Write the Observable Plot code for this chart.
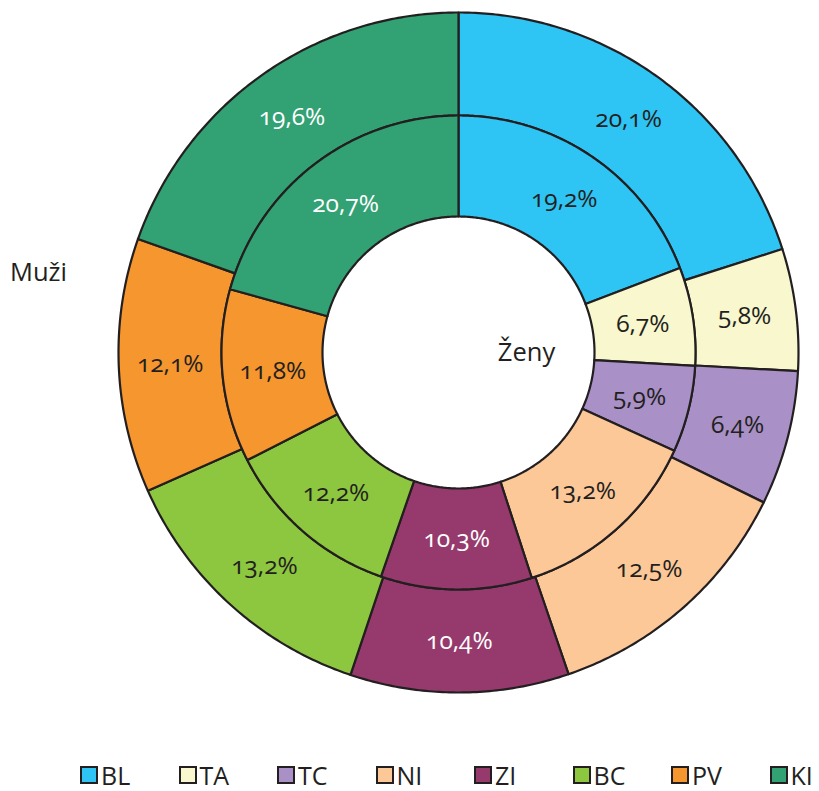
<!DOCTYPE html>
<html>
<head>
<meta charset="utf-8">
<script src="https://cdn.jsdelivr.net/npm/d3@7"></script>
<script src="https://cdn.jsdelivr.net/npm/@observablehq/plot@0.6"></script>
<style>
  html, body { margin: 0; padding: 0; background: #fff; }
  body { width: 819px; height: 791px; overflow: hidden; font-family: "Open Sans", sans-serif; color: #231f20; }
  #chart svg { display: block; font-variant-numeric: oldstyle-nums; }
  #legend { display: flex; position: absolute; top: 762px; left: 80px; font-size: 25px; line-height: 26px; color: #231f20; }
  .item { display: flex; align-items: center; width: 98.5px; white-space: nowrap; }
  .sw { width: 14px; height: 14px; border: 2.5px solid #231f20; margin-right: 3px; box-sizing: content-box; flex: none; }
</style>
</head>
<body>
<div id="chart"></div>
<div id="legend"></div>
<script>
// Regions (clockwise from 12 o'clock)
const categories = ["BL", "TA", "TC", "NI", "ZI", "BC", "PV", "KI"];
const colors = ["#2ec4f4", "#f8f7cd", "#a990c6", "#fcc898", "#963a6d", "#8dc63f", "#f6962e", "#32a173"];
const labelColors = ["#231f20", "#231f20", "#231f20", "#231f20", "#ffffff", "#231f20", "#231f20", "#ffffff"];
// Outer ring: Muži (men), inner ring: Ženy (women), percent
const muzi = [20.1, 5.8, 6.4, 12.5, 10.4, 13.2, 12.1, 19.6];
const zeny = [19.2, 6.7, 5.9, 13.2, 10.3, 12.2, 11.8, 20.7];
const seriesNames = ["Muži", "Ženy"];

const W = 819, H = 750, cx = 458, cy = 352;
const R0 = 136, R1 = 237, R2 = 340;

function ring(values, rIn, rOut, ring) {
  const pie = d3.pie().sort(null).value(d => d)(values);
  const polys = [], labels = [];
  pie.forEach((p, i) => {
    const a0 = p.startAngle, a1 = p.endAngle;
    const n = Math.max(8, Math.ceil((a1 - a0) / 0.01));
    const pts = [];
    for (let k = 0; k <= n; k++) {
      const a = a0 + (a1 - a0) * k / n;
      pts.push({x: rOut * Math.sin(a), y: rOut * Math.cos(a)});
    }
    for (let k = n; k >= 0; k--) {
      const a = a0 + (a1 - a0) * k / n;
      pts.push({x: rIn * Math.sin(a), y: rIn * Math.cos(a)});
    }
    pts.push(pts[0]);
    pts.forEach(pt => polys.push({...pt, id: ring + i, cat: categories[i]}));
    const am = (a0 + a1) / 2, rm = (rIn + rOut) / 2;
    labels.push({x: rm * Math.sin(am), y: rm * Math.cos(am),
      text: values[i].toFixed(1).replace(".", ",") + "%", color: labelColors[i]});
  });
  return {polys, labels};
}

const outer = ring(muzi, R1, R2, "m");
const inner = ring(zeny, R0, R1, "z");
const seriesLabels = [
  {x: -(R2 + 80), y: R2 * 0.235, text: seriesNames[0]},
  {x: R0 * 0.5, y: 0, text: seriesNames[1]}
];

const chart = Plot.plot({
  width: W, height: H,
  margin: 0,
  x: {domain: [-cx, W - cx], range: [0, W], axis: null},
  y: {domain: [-(H - cy), cy], range: [H, 0], axis: null},
  color: {domain: categories, range: colors},
  style: {fontFamily: "Open Sans, sans-serif", background: "white"},
  marks: [
    Plot.line(outer.polys, {x: "x", y: "y", z: "id", fill: "cat", stroke: "#231f20", strokeWidth: 2.2, strokeLinejoin: "round", curve: "linear"}),
    Plot.line(inner.polys, {x: "x", y: "y", z: "id", fill: "cat", stroke: "#231f20", strokeWidth: 2.2, strokeLinejoin: "round", curve: "linear"}),
    Plot.text(outer.labels.concat(inner.labels), {x: "x", y: "y", text: "text", fill: d => d.color, fontSize: 24.5}),
    Plot.text(seriesLabels, {x: "x", y: "y", text: "text", fill: "#231f20", fontSize: 25.5})
  ]
});
document.getElementById("chart").appendChild(chart);

const legend = document.getElementById("legend");
categories.forEach((c, i) => {
  const it = document.createElement("div");
  it.className = "item";
  it.innerHTML = `<span class="sw" style="background:${colors[i]}"></span><span>${c}</span>`;
  legend.appendChild(it);
});
</script>
</body>
</html>
